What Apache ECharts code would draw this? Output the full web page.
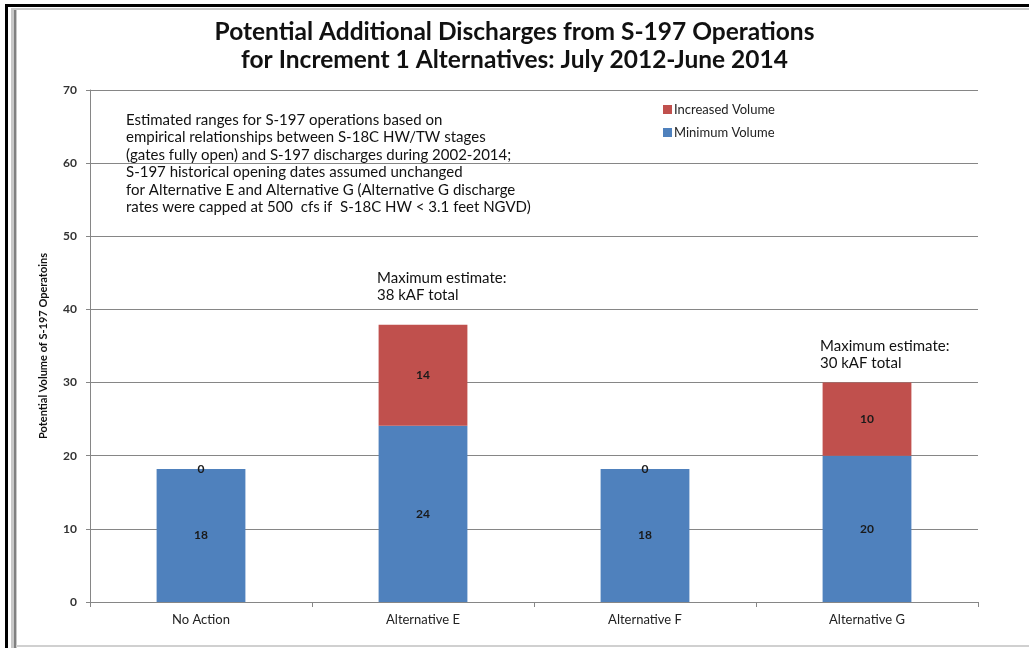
<!DOCTYPE html>
<html>
<head>
<meta charset="utf-8">
<script src="https://cdn.jsdelivr.net/npm/echarts@6/dist/echarts.min.js"></script>
<style>
  html, body { margin: 0; padding: 0; background: #fff; }
  #main { width: 1029px; height: 648px; }
</style>
</head>
<body>
<div id="main"></div>
<script>
var categories = ['No Action', 'Alternative E', 'Alternative F', 'Alternative G'];
var minimumVolume = [18.2, 24.1, 18.2, 20.0];
var increasedVolume = [0, 13.8, 0, 10.0];
var yTicks = { min: 0, max: 70, interval: 10 };

var myChart = echarts.init(document.getElementById('main'));
var labelStyle = {
  show: true,
  position: 'inside',
  color: '#1a1a1a',
  fontSize: 12,
  fontWeight: 'bold',
  fontFamily: 'Lato',
  formatter: function (p) { return Math.round(p.value); }
};
var noteFont = { fontFamily: 'Lato', fontSize: 15, fill: '#111', lineHeight: 17.5 };

var option = {
  animation: false,
  backgroundColor: '#fff',
  title: {
    text: 'Potential Additional Discharges from S-197 Operations\nfor Increment 1 Alternatives: July 2012-June 2014',
    left: 'center',
    top: 13,
    textStyle: {
      fontFamily: 'Lato',
      fontSize: 24.5,
      fontWeight: 'bold',
      color: '#111',
      lineHeight: 28
    }
  },
  legend: {
    orient: 'vertical',
    left: 658,
    top: 98,
    itemWidth: 9,
    itemHeight: 9,
    itemGap: 10,
    icon: 'rect',
    data: ['Increased Volume', 'Minimum Volume'],
    textStyle: { fontFamily: 'Lato', fontSize: 13, color: '#222', padding: [0, 0, 0, -3] }
  },
  grid: { left: 90, right: 51, top: 90, bottom: 46 },
  xAxis: {
    type: 'category',
    data: categories,
    axisLine: { lineStyle: { color: '#868686' } },
    axisTick: { show: true, length: 5, lineStyle: { color: '#868686' } },
    axisLabel: { color: '#222', fontFamily: 'Lato', fontSize: 13, margin: 11 }
  },
  yAxis: {
    type: 'value',
    min: yTicks.min,
    max: yTicks.max,
    interval: yTicks.interval,
    name: 'Potential Volume of S-197 Operatoins',
    nameLocation: 'middle',
    nameGap: 41,
    nameTextStyle: { fontFamily: 'Lato', fontSize: 11, fontWeight: 'bold', color: '#111' },
    axisLine: { show: true, lineStyle: { color: '#868686' } },
    axisTick: { show: true, length: 4, lineStyle: { color: '#868686' } },
    axisLabel: { color: '#333', fontFamily: 'Lato', fontSize: 12, fontWeight: 'bold', margin: 13 },
    splitLine: { lineStyle: { color: '#868686' } }
  },
  series: [
    {
      name: 'Minimum Volume',
      type: 'bar',
      stack: 'v',
      barWidth: '40%',
      itemStyle: { color: '#4F81BD' },
      label: labelStyle,
      data: minimumVolume
    },
    {
      name: 'Increased Volume',
      type: 'bar',
      stack: 'v',
      barWidth: '40%',
      itemStyle: { color: '#C0504D' },
      label: labelStyle,
      data: increasedVolume
    }
  ],
  graphic: [
    // page frame
    { type: 'rect', shape: { x: 5, y: 4, width: 3, height: 644 }, style: { fill: '#000' } },
    { type: 'rect', shape: { x: 5, y: 4, width: 1024, height: 3 }, style: { fill: '#000' } },
    { type: 'rect', shape: { x: 11, y: 8, width: 6, height: 640 }, style: { fill: '#c8c8c8' } },
    { type: 'rect', shape: { x: 14, y: 8, width: 2, height: 640 }, style: { fill: '#808080' } },
    { type: 'rect', shape: { x: 11, y: 8, width: 1018, height: 2 }, style: { fill: '#c8c8c8' } },
    { type: 'rect', shape: { x: 16, y: 645, width: 1013, height: 2 }, style: { fill: '#d0d0d0' } },
    // notes
    {
      type: 'text', left: 126, top: 111,
      style: Object.assign({
        text: 'Estimated ranges for S-197 operations based on\nempirical relationships between S-18C HW/TW stages\n(gates fully open) and S-197 discharges during 2002-2014;\nS-197 historical opening dates assumed unchanged\nfor Alternative E and Alternative G (Alternative G discharge\nrates were capped at 500  cfs if  S-18C HW < 3.1 feet NGVD)'
      }, noteFont)
    },
    {
      type: 'text', left: 377, top: 269,
      style: Object.assign({ text: 'Maximum estimate:\n38 kAF total' }, noteFont)
    },
    {
      type: 'text', left: 820, top: 337,
      style: Object.assign({ text: 'Maximum estimate:\n30 kAF total' }, noteFont)
    }
  ]
};
myChart.setOption(option);
</script>
</body>
</html>
